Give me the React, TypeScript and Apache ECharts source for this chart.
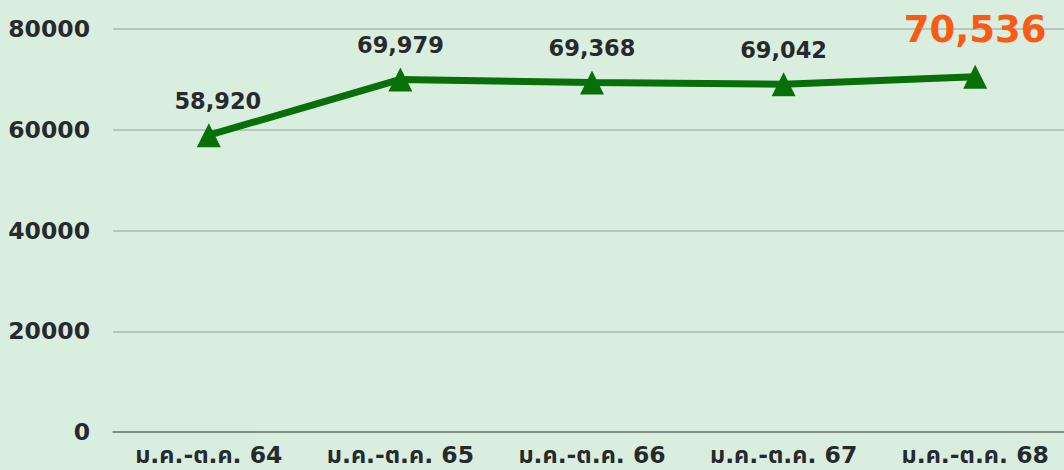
import React, { useEffect, useRef } from "react";
import * as echarts from "echarts";

const categories = ["ม.ค.-ต.ค. 64", "ม.ค.-ต.ค. 65", "ม.ค.-ต.ค. 66", "ม.ค.-ต.ค. 67", "ม.ค.-ต.ค. 68"];
const values = [58920, 69979, 69368, 69042, 70536];
const yTicks = { min: 0, max: 80000, interval: 20000 };

export default function App() {
  const ref = useRef<HTMLDivElement>(null);
  useEffect(() => {
    document.body.style.margin = "0";
    const chart = echarts.init(ref.current!, null, { renderer: "svg" });
    const font = "'DejaVu Sans', 'Noto Sans Thai', 'Noto Sans', sans-serif";
    const last = values.length - 1;
    chart.setOption({
      animation: false,
      backgroundColor: "#daeee0",
      grid: { left: 113, right: 0, top: 29, bottom: 38 },
      xAxis: {
        type: "category",
        data: categories,
        boundaryGap: true,
        axisLine: { show: true, lineStyle: { color: "#6f7c73", width: 1.5 } },
        axisTick: { show: false },
        axisLabel: { color: "#262a2c", fontSize: 23.5, fontWeight: "bold", fontFamily: font, margin: 11 },
      },
      yAxis: {
        type: "value",
        min: yTicks.min,
        max: yTicks.max,
        interval: yTicks.interval,
        axisLine: { show: false },
        axisTick: { show: false },
        splitLine: { lineStyle: { color: "#aab9b0", width: 1.5 } },
        axisLabel: {
          color: "#262a2c",
          fontSize: 23.5,
          fontWeight: "bold",
          fontFamily: font,
          margin: 23,
          formatter: (v: number) => String(v),
        },
      },
      series: [
        {
          type: "line",
          data: values.map((v, i) =>
            i === last
              ? {
                  value: v,
                  label: { color: "#f95b14", fontSize: 37, distance: 17 },
                }
              : i === 0
              ? { value: v, label: { offset: [9, 0] } }
              : v
          ),
          symbol: "triangle",
          symbolSize: 24,
          itemStyle: { color: "#087008" },
          lineStyle: { color: "#087008", width: 7 },
          label: {
            show: true,
            position: "top",
            distance: 11,
            color: "#262a2c",
            fontSize: 22.5,
            fontWeight: "bold",
            fontFamily: font,
            formatter: (p: any) => Number(p.value).toLocaleString("en-US"),
          },
        },
      ],
    });
    return () => chart.dispose();
  }, []);
  return (
    <div style={{ width: 1064, height: 470, overflow: "hidden" }}>
      <div ref={ref} style={{ width: 1071, height: 470 }} />
    </div>
  );
}
